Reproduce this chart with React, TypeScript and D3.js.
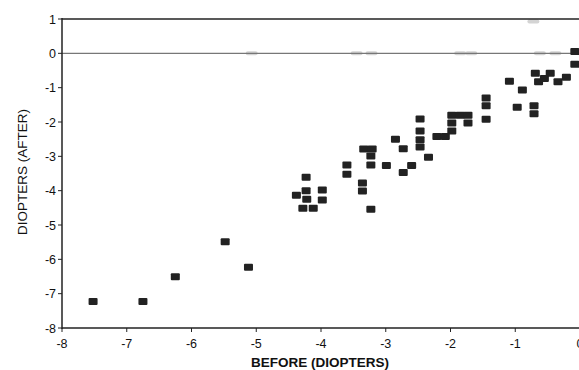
import React from "react";
import * as d3 from "d3";

// BEFORE (diopters) values
const beforeValues = [
  -7.52, -6.75, -6.25, -5.48, -5.12,
  -4.23, -4.23, -4.38, -4.22, -4.28, -4.12, -3.98, -3.98,
  -3.6, -3.6, -3.36, -3.36, -3.23, -3.23, -3.23, -3.34, -3.21,
  -2.99, -2.85, -2.73, -2.73, -2.6, -2.47, -2.47, -2.47, -2.47, -2.34,
  -2.21, -2.08, -1.98, -1.85, -1.73, -1.73, -1.98, -1.98,
  -1.45, -1.45, -1.45, -1.09, -0.89, -0.97, -0.71, -0.71,
  -0.69, -0.46, -0.64, -0.34, -0.21, -0.08, -0.08, -0.55,
];
// AFTER (diopters) values
const afterValues = [
  -7.23, -7.23, -6.51, -5.49, -6.23,
  -3.61, -4.0, -4.13, -4.25, -4.51, -4.51, -3.98, -4.27,
  -3.25, -3.52, -3.78, -4.01, -4.54, -2.99, -3.25, -2.79, -2.79,
  -3.27, -2.5, -2.78, -3.47, -3.27, -1.91, -2.26, -2.52, -2.73, -3.03,
  -2.42, -2.42, -1.8, -1.8, -1.8, -2.03, -2.03, -2.26,
  -1.3, -1.53, -1.92, -0.81, -1.07, -1.57, -1.53, -1.76,
  -0.58, -0.58, -0.83, -0.83, -0.7, 0.05, -0.32, -0.73,
];

// faint scan marks (light gray)
const faintX = [-5.07, -3.45, -3.22, -1.85, -1.68, -0.62, -0.38, -0.72];
const faintY = [0, 0, 0, 0, 0, 0, 0, 0.93];

const xTicks = [-8, -7, -6, -5, -4, -3, -2, -1, 0];
const yTicks = [1, 0, -1, -2, -3, -4, -5, -6, -7, -8];

const W = 579;
const H = 370;

export default function App() {
  const x = d3.scaleLinear().domain([-8, 0]).range([62, 580]);
  const y = d3.scaleLinear().domain([-8, 1]).range([328, 19]);
  const font = "'Liberation Sans', Arial, Helvetica, sans-serif";
  const mw = 9;
  const mh = 7;
  const pts = beforeValues.map((b, i) => [b, afterValues[i]]);

  return (
    <svg
      width={W}
      height={H}
      style={{ position: "absolute", left: 0, top: 0, background: "#fff" }}
    >
      <rect x={0} y={0} width={W} height={H} fill="#fff" />
      {/* faint marks */}
      {faintX.map((fx, i) => (
        <rect
          key={"f" + i}
          x={x(fx) - 6}
          y={y(faintY[i]) - 2}
          width={12}
          height={4}
          rx={2}
          fill="#d4d4d4"
        />
      ))}
      {/* top line at 1 */}
      <line x1={x(-8)} x2={W} y1={y(1)} y2={y(1)} stroke="#222" strokeWidth={1.5} />
      {/* zero line */}
      <line x1={x(-8)} x2={W} y1={y(0)} y2={y(0)} stroke="#777" strokeWidth={1.2} />
      {/* left axis */}
      <line x1={x(-8)} x2={x(-8)} y1={y(1) - 1} y2={y(-8) + 1} stroke="#222" strokeWidth={1.5} />
      {/* bottom axis */}
      <line x1={x(-8)} x2={W} y1={y(-8)} y2={y(-8)} stroke="#222" strokeWidth={1.5} />
      {/* y ticks */}
      {yTicks.map((t) => (
        <g key={"y" + t}>
          <line x1={x(-8) - 4} x2={x(-8)} y1={y(t)} y2={y(t)} stroke="#222" strokeWidth={1} />
          <text
            x={x(-8) - 6}
            y={y(t)}
            dy="0.36em"
            textAnchor="end"
            fontFamily={font}
            fontSize={12.5}
            fill="#111"
          >
            {t}
          </text>
        </g>
      ))}
      {/* x ticks */}
      {xTicks.map((t) => (
        <g key={"x" + t}>
          <line x1={x(t)} x2={x(t)} y1={y(-8)} y2={y(-8) + 4} stroke="#222" strokeWidth={1} />
          <text
            x={x(t)}
            y={y(-8) + 20}
            textAnchor="middle"
            fontFamily={font}
            fontSize={12.5}
            fill="#111"
          >
            {t}
          </text>
        </g>
      ))}
      {/* points */}
      {pts.map(([b, a], i) => (
        <rect
          key={"p" + i}
          x={x(b) - mw / 2}
          y={y(a) - mh / 2}
          width={mw}
          height={mh}
          rx={1}
          fill="#222"
        />
      ))}
      {/* axis titles */}
      <text
        x={320}
        y={367}
        textAnchor="middle"
        fontFamily={font}
        fontSize={13.5}
        fontWeight="bold"
        fill="#111"
      >
        BEFORE (DIOPTERS)
      </text>
      <text
        transform={`translate(27, 172) rotate(-90)`}
        textAnchor="middle"
        fontFamily={font}
        fontSize={13.5}
        fill="#111"
      >
        DIOPTERS (AFTER)
      </text>
    </svg>
  );
}
